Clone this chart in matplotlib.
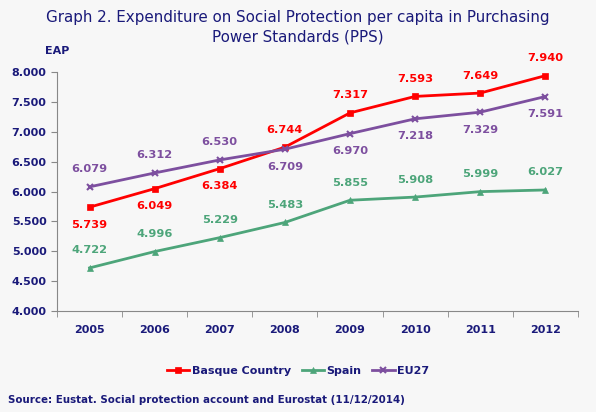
import numpy as np
from matplotlib import pyplot as plt
from matplotlib.ticker import FuncFormatter

years = ['2005', '2006', '2007', '2008', '2009', '2010', '2011', '2012']
basque = [5739, 6049, 6384, 6744, 7317, 7593, 7649, 7940]
spain = [4722, 4996, 5229, 5483, 5855, 5908, 5999, 6027]
eu27 = [6079, 6312, 6530, 6709, 6970, 7218, 7329, 7591]

# where each value label goes: 1 above, -1 below
basque_pos = [-1, -1, -1, 1, 1, 1, 1, 1]
spain_pos = [1, 1, 1, 1, 1, 1, 1, 1]
eu27_pos = [1, 1, 1, -1, -1, -1, -1, -1]

navy = '#1a1a7a'
red = '#ff0000'
green = '#4da57a'
purple = '#7d4f9f'
bg = '#f7f7f7'

plt.rcParams['font.family'] = ['DejaVu Sans']

fig = plt.figure(figsize=(5.96, 4.12), dpi=100, facecolor=bg)
ax = fig.add_axes([0.0956, 0.245, 0.874, 0.58])
ax.set_facecolor(bg)

x = np.arange(len(years))

def fmt(v):
    return '{:,}'.format(int(v)).replace(',', '.')

series = [
    (basque, red, 's', 'Basque Country', basque_pos),
    (spain, green, '^', 'Spain', spain_pos),
    (eu27, purple, 'x', 'EU27', eu27_pos),
]
for vals, col, mk, name, pos in series:
    ax.plot(x, vals, color=col, marker=mk, markersize=5,
            markeredgewidth=1.5 if mk == 'x' else 0.5, linewidth=2, label=name)
    for xi, v, p in zip(x, vals, pos):
        ax.annotate(fmt(v), (xi, v), xytext=(0, 9 * p), textcoords='offset points',
                    ha='center', va='bottom' if p > 0 else 'top',
                    color=col, fontsize=8.2, fontweight='bold')

ax.set_xlim(-0.5, len(years) - 0.5)
ax.set_ylim(4000, 8000)
ax.set_yticks(np.arange(4000, 8001, 500))
ax.yaxis.set_major_formatter(FuncFormatter(lambda v, p: fmt(v)))
ax.set_xticks(x)
ax.set_xticklabels(years)
ax.set_xticks(np.arange(-0.5, len(years)), minor=True)
ax.tick_params(axis='x', which='major', length=0, pad=10, colors=navy, labelsize=8)
ax.tick_params(axis='x', which='minor', length=4, color='#888888', direction='out')
ax.tick_params(axis='y', length=4, color='#888888', labelcolor=navy, labelsize=8)
for lab in ax.get_xticklabels() + ax.get_yticklabels():
    lab.set_fontweight('bold')
ax.spines['top'].set_visible(False)
ax.spines['right'].set_visible(False)
ax.spines['left'].set_color('#888888')
ax.spines['bottom'].set_color('#888888')

fig.text(0.5, 0.957, 'Graph 2. Expenditure on Social Protection per capita in Purchasing',
         ha='center', va='center', color=navy, fontsize=10.9)
fig.text(0.5, 0.91, 'Power Standards (PPS)',
         ha='center', va='center', color=navy, fontsize=10.9)
fig.text(0.096, 0.875, 'EAP', ha='center', va='center', color=navy, fontsize=8, fontweight='bold')

leg = fig.legend(loc='center', bbox_to_anchor=(0.5, 0.1), ncol=3, frameon=False,
                 fontsize=8, handlelength=2, columnspacing=1.0, handletextpad=0.2)
for t in leg.get_texts():
    t.set_color(navy)
    t.set_fontweight('bold')

fig.text(0.013, 0.03, 'Source: Eustat. Social protection account and Eurostat (11/12/2014)',
         ha='left', va='center', color=navy, fontsize=7.4, fontweight='bold')

fig.savefig('out.png', dpi=100, facecolor=bg)
